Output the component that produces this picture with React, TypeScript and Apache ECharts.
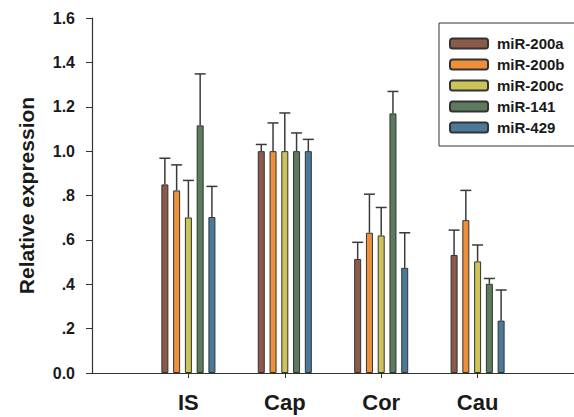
import React, { useEffect, useRef } from "react";
import * as echarts from "echarts";

const categories = ["IS", "Cap", "Cor", "Cau"];
const seriesNames = ["miR-200a", "miR-200b", "miR-200c", "miR-141", "miR-429"];
const mir200a = [0.85, 1.0, 0.514, 0.532];
const mir200b = [0.823, 1.0, 0.632, 0.689];
const mir200c = [0.701, 1.0, 0.62, 0.503];
const mir141 = [1.116, 1.0, 1.17, 0.402];
const mir429 = [0.703, 1.0, 0.474, 0.236];
const err200a = [0.118, 0.03, 0.075, 0.112];
const err200b = [0.115, 0.127, 0.174, 0.134];
const err200c = [0.167, 0.172, 0.126, 0.074];
const err141 = [0.232, 0.082, 0.099, 0.024];
const err429 = [0.138, 0.053, 0.158, 0.138];
const yTickLabels = ["0.0", ".2", ".4", ".6", ".8", "1.0", "1.2", "1.4", "1.6"];

const colors = ["#8b5a4a", "#ee8f39", "#cac45a", "#5c7b5d", "#4a7a98"];
const BAR_W = 7;
const GAP_RATIO = 0.68;
const FONT = "'Liberation Sans', Arial, sans-serif";

export default function App() {
  const ref = useRef<HTMLDivElement>(null);
  useEffect(() => {
    if (!ref.current) return;
    const chart = echarts.init(ref.current, null, { renderer: "svg" });
    const values = [mir200a, mir200b, mir200c, mir141, mir429];
    const errs = [err200a, err200b, err200c, err141, err429];
    const pitch = BAR_W * (1 + GAP_RATIO);
    const n = seriesNames.length;

    const barSeries = seriesNames.map((name, k) => ({
      name,
      type: "bar",
      barWidth: BAR_W,
      barGap: GAP_RATIO * 100 + "%",
      itemStyle: { color: colors[k], borderColor: "#333", borderWidth: 1 },
      data: categories.map((c, i) => [i + 1, values[k][i]]),
    }));

    const errData: number[][] = [];
    seriesNames.forEach((_, k) => {
      categories.forEach((c, i) => {
        errData.push([i + 1, values[k][i], errs[k][i], k]);
      });
    });

    const option: any = {
      animation: false,
      backgroundColor: "#fff",
      textStyle: { fontFamily: FONT },
      grid: { left: 92, right: -12, top: 18, bottom: 44, containLabel: false },
      legend: {
        data: seriesNames,
        orient: "vertical",
        left: 439,
        top: 23,
        borderColor: "#333",
        borderWidth: 1,
        padding: [13, 20, 11, 10],
        itemWidth: 38,
        itemHeight: 10,
        itemGap: 6,
        textStyle: { fontSize: 15, fontWeight: "bold", color: "#1a1a1a", fontFamily: FONT, padding: [0, 0, 0, 4] },
      },
      xAxis: {
        type: "value",
        min: 0,
        max: 5,
        interval: 1,
        splitLine: { show: false },
        axisLine: { show: true, lineStyle: { color: "#333", width: 1.2 } },
        axisTick: { show: true, length: 5, customValues: [1, 2, 3, 4], lineStyle: { color: "#333" } },
        axisLabel: {
          customValues: [1, 2, 3, 4],
          formatter: (v: number) => categories[Math.round(v) - 1] ?? "",
          fontSize: 22,
          fontWeight: "bold",
          color: "#1a1a1a",
          fontFamily: FONT,
          margin: 18,
        },
      },
      yAxis: {
        type: "value",
        min: 0,
        max: 1.6,
        interval: 0.2,
        name: "Relative expression",
        nameLocation: "middle",
        nameGap: 55,
        nameTextStyle: { fontSize: 21, fontWeight: "bold", color: "#1a1a1a", fontFamily: FONT },
        splitLine: { show: false },
        axisLine: { show: true, lineStyle: { color: "#333", width: 1.2 } },
        axisTick: { show: true, length: 6, lineStyle: { color: "#333" } },
        axisLabel: {
          formatter: (v: number) => yTickLabels[Math.round(v / 0.2)] ?? "",
          fontSize: 16,
          fontWeight: "bold",
          color: "#1a1a1a",
          fontFamily: FONT,
          margin: 17,
        },
      },
      series: [
        ...barSeries,
        {
          type: "custom",
          name: "errors",
          z: 3,
          data: errData,
          renderItem: (params: any, api: any) => {
            const x = api.value(0);
            const v = api.value(1);
            const e = api.value(2);
            const k = api.value(3);
            const base = api.coord([x, v]);
            const top = api.coord([x, v + e]);
            const cx = base[0] + (k - (n - 1) / 2) * pitch;
            const st = { stroke: "#3a3a3a", lineWidth: 1.5 };
            return {
              type: "group",
              children: [
                { type: "line", shape: { x1: cx, y1: base[1], x2: cx, y2: top[1] }, style: st },
                { type: "line", shape: { x1: cx - 5.5, y1: top[1], x2: cx + 5.5, y2: top[1] }, style: st },
              ],
            };
          },
        },
      ],
    };
    chart.setOption(option);
    return () => chart.dispose();
  }, []);
  return <div ref={ref} style={{ position: "absolute", left: 0, top: 0, width: 574, height: 417 }} />;
}
